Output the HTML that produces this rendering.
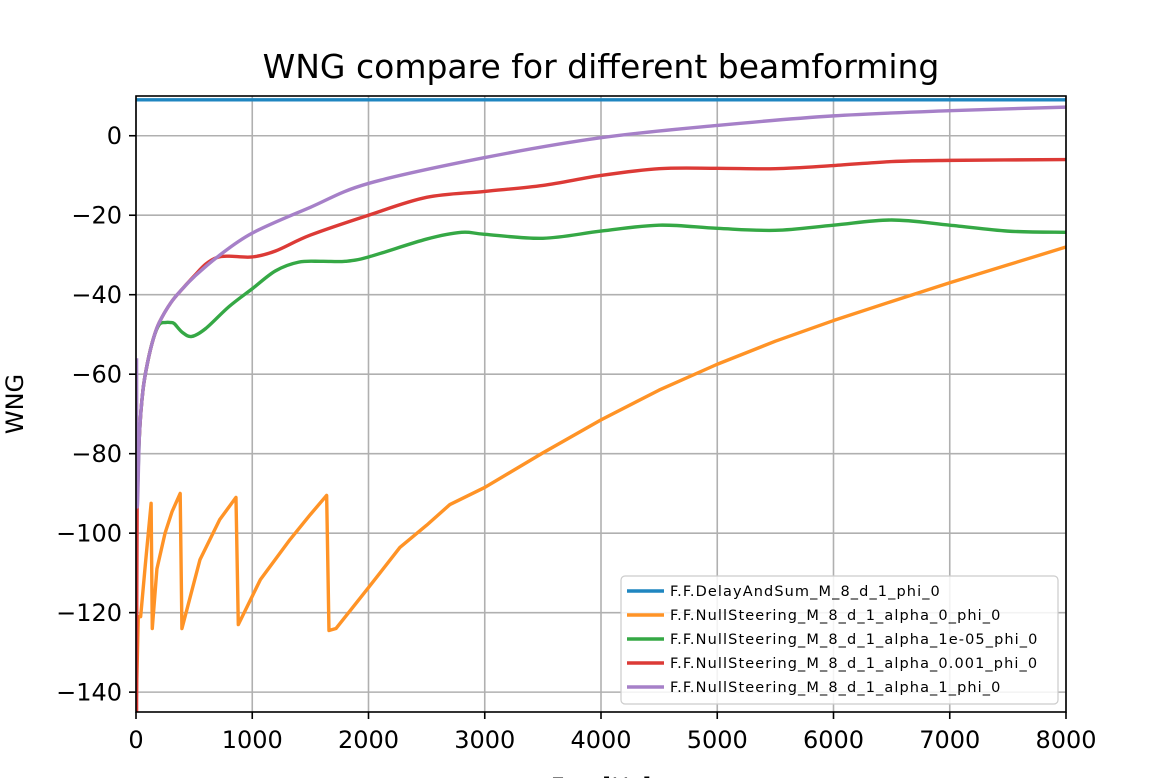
<!DOCTYPE html>
<html><head><meta charset="utf-8"><style>
body{margin:0;background:#fff;}
svg text{font-family:"DejaVu Sans","Liberation Sans",sans-serif;}
</style></head><body>
<svg id="chart" width="1172" height="778" xmlns="http://www.w3.org/2000/svg">
<rect width="1172" height="778" fill="#fff"/>
<g id="grid"></g><g id="series"></g><g id="axes"></g>
<text x="601" y="78" font-size="33" text-anchor="middle">WNG compare for different beamforming</text>
<text transform="translate(23,404) rotate(-90)" font-size="24" text-anchor="middle">WNG</text>
<text x="601" y="795" font-size="24" text-anchor="middle">Freq[Hz]</text>
<g id="legend"></g>
</svg>
<script>
const xTicks=[0,1000,2000,3000,4000,5000,6000,7000,8000];
const yTicks=[0,-20,-40,-60,-80,-100,-120,-140];
const seriesNames=["F.F.DelayAndSum_M_8_d_1_phi_0","F.F.NullSteering_M_8_d_1_alpha_0_phi_0","F.F.NullSteering_M_8_d_1_alpha_1e-05_phi_0","F.F.NullSteering_M_8_d_1_alpha_0.001_phi_0","F.F.NullSteering_M_8_d_1_alpha_1_phi_0"];
const seriesColors=["#1f86c0","#ff9326","#35a845","#dc3a36","#a680c8"];
const dasF=[0,8000];
const dasV=[9.03,9.03];
const nsF=[0,20,40,80,130,140,180,250,310,380,395,550,720,860,880,1070,1325,1500,1640,1660,1720,2000,2270,2500,2700,3000,3500,4000,4500,5000,5500,6000,6500,7000,7500,8000];
const nsV=[-145,-121,-121,-108,-92.5,-124,-109,-100,-94.6,-90,-124,-106.7,-96.6,-91,-123,-111.7,-101.6,-95.3,-90.5,-124.5,-124,-113.7,-103.6,-98,-92.8,-88.5,-79.8,-71.5,-64,-57.5,-51.7,-46.5,-41.7,-37,-32.5,-28];
const g5F=[10,30,60,100,150,200,250,300,330,400,480,600,800,1000,1200,1400,1600,1800,2000,2500,2800,3000,3500,4000,4500,5000,5500,6000,6500,7000,7500,8000];
const g5V=[-93,-75,-64,-57,-51,-47.5,-47,-47,-47.3,-49.5,-50.5,-48.5,-43,-38.5,-34,-31.8,-31.6,-31.6,-30.5,-26,-24.3,-24.8,-25.8,-24,-22.5,-23.3,-23.8,-22.5,-21.2,-22.5,-24,-24.3];
const r3F=[5,10,30,60,100,150,200,300,400,500,600,700,800,1000,1200,1500,2000,2500,3000,3500,4000,4500,5000,5500,6000,6500,7000,8000];
const r3V=[-145,-93,-75,-64,-57,-51,-47,-42,-38.5,-35.3,-32.3,-30.6,-30.3,-30.5,-29,-25,-20,-15.5,-14,-12.5,-10,-8.3,-8.2,-8.3,-7.5,-6.5,-6.2,-6];
const p1F=[5,10,30,60,100,150,200,300,400,500,700,1000,1500,2000,3000,4000,5000,6000,7000,8000];
const p1V=[-56,-93,-75,-64,-57,-51,-47,-42,-38.5,-35.5,-30.5,-24.5,-18,-12,-5.5,-0.5,2.6,5,6.3,7.2];
const allF=[dasF,nsF,g5F,r3F,p1F], allV=[dasV,nsV,g5V,r3V,p1V], smooth=[false,false,true,true,true];
const L=136,R=1066,T=96,B=712,xMin=0,xMax=8000,yMin=-145,yMax=10;
const xs=v=>L+(v-xMin)/(xMax-xMin)*(R-L);
const ys=v=>B-(v-yMin)/(yMax-yMin)*(B-T);
const NS="http://www.w3.org/2000/svg";
function mk(t,a,p){const e=document.createElementNS(NS,t);for(const k in a)e.setAttribute(k,a[k]);p.appendChild(e);return e;}
const grid=document.getElementById('grid'),axes=document.getElementById('axes'),ser=document.getElementById('series'),leg=document.getElementById('legend');
xTicks.forEach(t=>{const x=xs(t);
 const l=mk('line',{x1:x,x2:x,y1:T,y2:B,stroke:'#b0b0b0','stroke-width':1.6},grid);
 
 
 mk('line',{x1:x,x2:x,y1:B,y2:B+7,stroke:'#000','stroke-width':1.6},axes);
 const tx=mk('text',{x:x,y:B+36,'font-size':24,'text-anchor':'middle'},axes);tx.textContent=t;
 
 });
yTicks.forEach(t=>{const y=ys(t);
 const l=mk('line',{x1:L,x2:R,y1:y,y2:y,stroke:'#b0b0b0','stroke-width':1.6},grid);
 
 
 mk('line',{x1:L-7,x2:L,y1:y,y2:y,stroke:'#000','stroke-width':1.6},axes);
 const tx=mk('text',{x:L-14,y:y+8.5,'font-size':24,'text-anchor':'end'},axes);tx.textContent=t<0?'\u2212'+(-t):t;
 
 });
const fr=mk('rect',{x:L,y:T,width:R-L,height:B-T,fill:'none',stroke:'#000','stroke-width':1.6},axes);


function pathD(P,sm){let d='M'+P[0][0]+','+P[0][1];
 if(!sm){for(let i=1;i<P.length;i++)d+='L'+P[i][0]+','+P[i][1];return d;}
 for(let i=0;i<P.length-1;i++){const p0=P[Math.max(0,i-1)],p1=P[i],p2=P[i+1],p3=P[Math.min(P.length-1,i+2)];
  const c1=[p1[0]+(p2[0]-p0[0])/6,p1[1]+(p2[1]-p0[1])/6],c2=[p2[0]-(p3[0]-p1[0])/6,p2[1]-(p3[1]-p1[1])/6];
  d+='C'+c1+' '+c2+' '+p2;}return d;}
const cp=mk('clipPath',{id:'cp'},ser);mk('rect',{x:L,y:T,width:R-L,height:B-T},cp);
allF.forEach((F,s)=>{const P=F.map((f,i)=>[xs(f),ys(allV[s][i])]);
 const p=mk('path',{d:pathD(P,smooth[s]),fill:'none',stroke:seriesColors[s],'stroke-width':3.4,'stroke-linejoin':'round','clip-path':'url(#cp)'},ser);
 
 });
const lb=mk('rect',{x:621,y:576,width:437,height:128,rx:4,fill:'#fff','fill-opacity':0.85,stroke:'#ccc','stroke-width':1.2},leg);


seriesNames.forEach((n,i)=>{const y=591+i*24;
 const g=mk('g',{},leg);
 
 
 mk('line',{x1:627,x2:664,y1:y,y2:y,stroke:seriesColors[i],'stroke-width':3.4},g);
 const t=mk('text',{x:670,y:y+5,'font-size':14.5,'letter-spacing':1.1},g);t.textContent=n;});
</script>
</body></html>
